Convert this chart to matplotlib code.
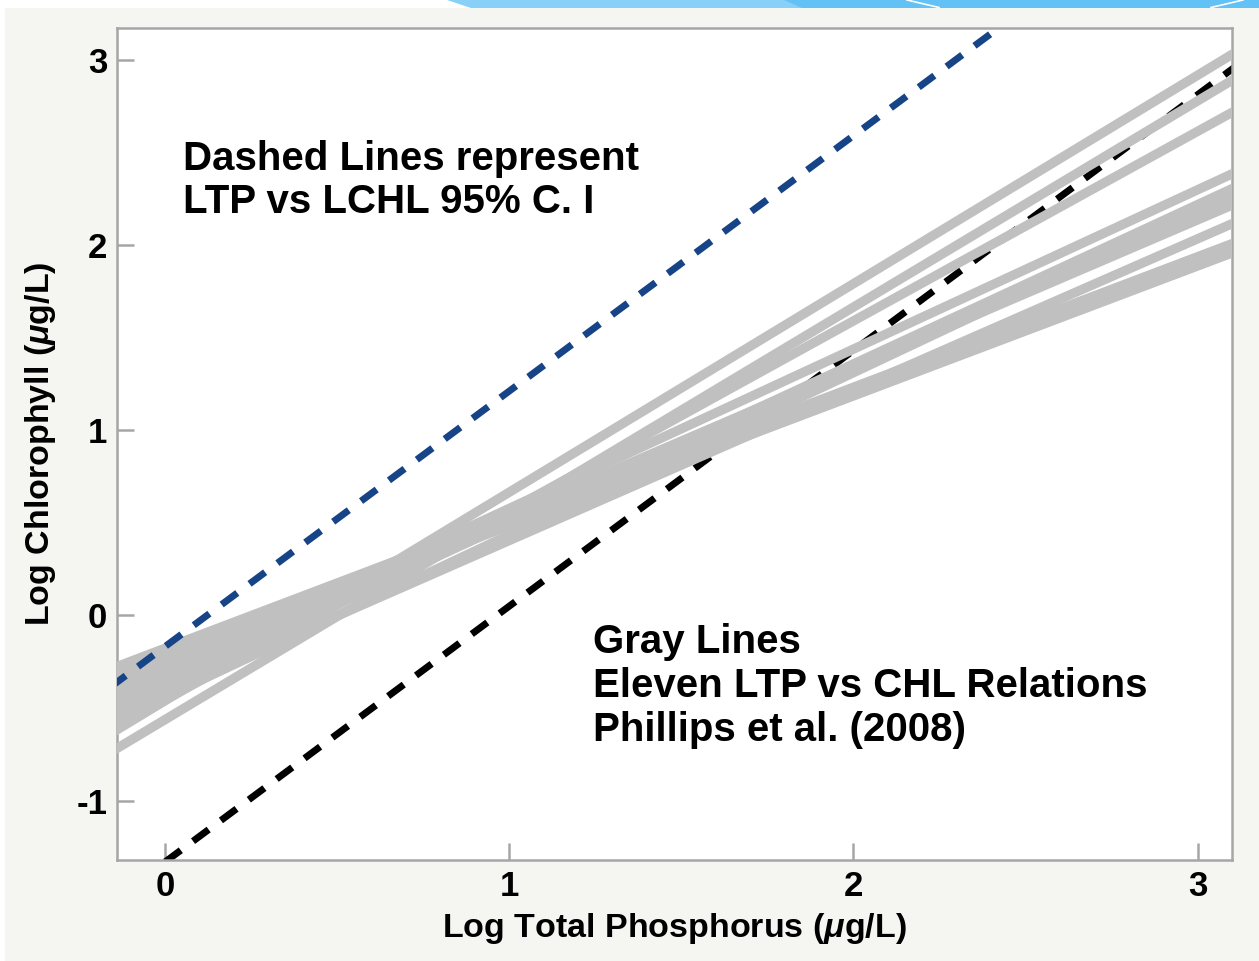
import matplotlib
matplotlib.use('Agg')
import matplotlib.pyplot as plt
from matplotlib.patches import Polygon, Rectangle

plt.rcParams['font.family'] = ['Liberation Sans', 'DejaVu Sans']
plt.rcParams['font.weight'] = 'bold'
plt.rcParams['mathtext.fontset'] = 'custom'
plt.rcParams['mathtext.it'] = 'Liberation Sans:italic:bold'
plt.rcParams['mathtext.rm'] = 'Liberation Sans:bold'

# eleven LTP vs CHL relations (Phillips et al. 2008), log CHL at both ends of the LTP range
gray_tp = [-0.16, 3.12]
gray_start = [-0.64, -0.74, -0.62, -0.42, -0.50, -0.58, -0.38, -0.54, -0.29, -0.33, -0.45]
gray_end = [3.05, 2.91, 2.735, 2.40, 2.32, 2.29, 2.23, 2.13, 2.02, 1.97, 2.26]

# 95% confidence limits of LTP vs LCHL
upper_tp = [-0.16, 2.55]
upper_chl = [-0.388, 3.347]
lower_tp = [0.0, 3.15]
lower_chl = [-1.33, 3.017]

xticks = [0, 1, 2, 3]
yticks = [-1, 0, 1, 2, 3]

fig = plt.figure(figsize=(12.59, 9.61), dpi=100, facecolor='white')

# slide background and top decoration
fig.patches.append(Rectangle((5 / 1259, 0), 1, 1 - 7.5 / 961, transform=fig.transFigure,
                             facecolor='#f5f6f1', edgecolor='none', zorder=-10))
fig.patches.append(Polygon([(447 / 1259, 1), (802 / 1259, 1), (802 / 1259, 1 - 7.5 / 961),
                            (471 / 1259, 1 - 7.5 / 961)], closed=True, transform=fig.transFigure,
                           facecolor='#88d0f8', edgecolor='none', zorder=-10))
fig.patches.append(Polygon([(784 / 1259, 1), (1259 / 1259, 1), (1259 / 1259, 1 - 7.5 / 961),
                            (802 / 1259, 1 - 7.5 / 961)], closed=True, transform=fig.transFigure,
                           facecolor='#62c2f5', edgecolor='none', zorder=-9))
for xa, xb in [(907, 939), (1243, 1211)]:
    fig.lines.append(plt.Line2D([xa / 1259, xb / 1259], [1, 1 - 7.5 / 961], transform=fig.transFigure,
                                color='white', linewidth=1.2, zorder=-8))

ax = fig.add_axes([117 / 1259, 1 - 860 / 961, (1232 - 117) / 1259, (860 - 28) / 961])
ax.set_facecolor('white')

ax.plot(lower_tp, lower_chl, color='black', linewidth=5, dashes=(2.8, 2.2), zorder=2)
for s, e in zip(gray_start, gray_end):
    ax.plot(gray_tp, [s, e], color='#c0c0c0', linewidth=6.8, solid_capstyle='butt', zorder=3)
ax.plot(upper_tp, upper_chl, color='#174387', linewidth=5, dashes=(2.8, 2.2), zorder=4)

ax.set_xlim(-0.14, 3.1)
ax.set_ylim(-1.32, 3.17)
ax.set_xticks(xticks)
ax.set_yticks(yticks)
ax.set_xticklabels([str(v) for v in xticks])
ax.set_yticklabels([str(v) for v in yticks])
ax.tick_params(direction='in', length=12, width=1.8, color='#a6a6a6', labelsize=25, pad=7)
for sp in ax.spines.values():
    sp.set_color('#a6a6a6')
    sp.set_linewidth(1.8)

ax.set_xlabel(r'Log Total Phosphorus ($\mu$g/L)', fontsize=24.5, fontweight='bold', labelpad=6)
ax.set_ylabel(r'Log Chlorophyll ($\mu$g/L)', fontsize=24.5, fontweight='bold', labelpad=13)

ax.text(0.052, 2.405, 'Dashed Lines represent', fontsize=29, fontweight='bold', va='baseline')
ax.text(0.052, 2.172, 'LTP vs LCHL 95% C. I', fontsize=29, fontweight='bold', va='baseline')
ax.text(1.242, -0.205, 'Gray Lines', fontsize=29, fontweight='bold', va='baseline')
ax.text(1.242, -0.443, 'Eleven LTP vs CHL Relations', fontsize=29, fontweight='bold', va='baseline')
ax.text(1.242, -0.676, 'Phillips et al. (2008)', fontsize=29, fontweight='bold', va='baseline')

fig.savefig('out.png', dpi=100, facecolor=fig.get_facecolor())
